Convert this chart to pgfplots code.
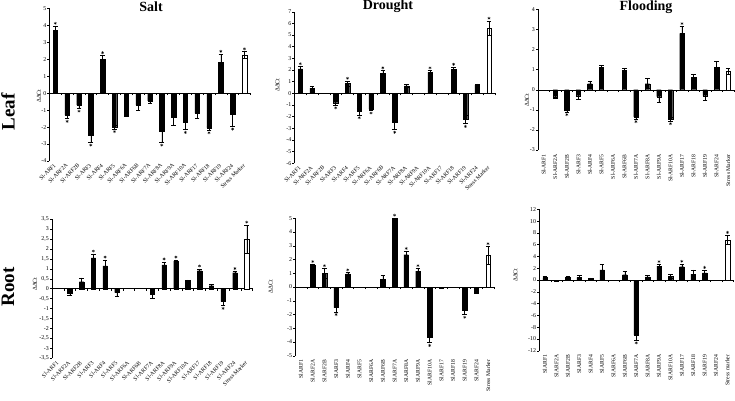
\documentclass[border=0pt]{standalone}
\usepackage{fontspec}
\setmainfont{Liberation Serif}
\usepackage{pgfplots}
\pgfplotsset{compat=1.18}

\pgfplotsset{
  panel/.style={
    scale only axis, clip=false, enlargelimits=false,
    xmin=-0.5, xmax=16.5,
    axis x line=middle, axis y line=left,
    axis line style={-, line width=0.4pt, black},
    tick align=outside, major tick length=2pt, minor tick length=2pt,
    xtick={0,...,16}, minor xtick={-0.5,0.5,...,16.5},
    major x tick style={draw=none}, minor x tick style={black, line width=0.4pt},
    y tick style={black, line width=0.4pt},
    hide obscured x ticks=false, hide obscured y ticks=false,
    /pgf/number format/assume math mode=true,
    y tick label style={font=\fontsize{5.9}{6}\selectfont, inner sep=1pt},
  },
  rotA/.style={x tick label style={rotate=45, anchor=east, inner sep=0.5pt, font=\fontsize{5.7}{6}\selectfont}},
  rotB/.style={x tick label style={rotate=90, anchor=east, inner sep=0.5pt, font=\fontsize{5.7}{6}\selectfont}},
  blackbar/.style={ybar, bar shift=0pt, bar width=4.5pt, fill=black, draw=black, line width=0.3pt,
    error bars/y dir=both, error bars/y explicit,
    error bars/error bar style={black, line width=0.4pt},
    error bars/error mark options={rotate=90, black, mark size=2.3pt, line width=0.4pt}},
  whitebar/.style={blackbar, fill=white},
  starsUp/.style={only marks, mark=asterisk, mark size=1.5pt, forget plot,
    mark options={black, line width=0.35pt, yshift=2.8pt}},
  starsDn/.style={only marks, mark=asterisk, mark size=1.5pt, forget plot,
    mark options={black, line width=0.35pt, yshift=-2.8pt}},
}

\begin{document}
\begin{tikzpicture}
\path[use as bounding box] (0,0) rectangle (735pt,400pt);

% titles and row labels
\node[font=\fontsize{14}{14}\bfseries] at (151pt,393pt) {Salt};
\node[font=\fontsize{14}{14}\bfseries] at (388pt,393.5pt) {Drought};
\node[font=\fontsize{14}{14}\bfseries] at (646pt,392.5pt) {Flooding};
\node[font=\fontsize{19}{19}\bfseries, rotate=90] at (8pt,288pt) {Leaf};
\node[font=\fontsize{19}{19}\bfseries, rotate=90] at (8pt,113pt) {Root};

% ---------------- Leaf / Salt ----------------
\begin{axis}[panel, rotA, at={(49.4pt,239pt)}, anchor=south west, width=201pt, height=152.7pt,
  ymin=-4, ymax=5, ytick={-4,...,5}, xticklabel shift=69pt,
  xticklabels={Sl-ARF1,Sl-ARF2A,Sl-ARF2B,Sl-ARF3,Sl-ARF4,Sl-ARF5,Sl-ARF6A,Sl-ARF6B,Sl-ARF7A,Sl-ARF8A,Sl-ARF9A,Sl-ARF10A,Sl-ARF17,Sl-ARF18,Sl-ARF19,Sl-ARF24,Stress Marker}]
\addplot[blackbar] coordinates {
 (0,3.7) +- (0,0.25) (1,-1.3) +- (0,0.2) (2,-0.7) +- (0,0.2) (3,-2.5) +- (0,0.4)
 (4,2.0) +- (0,0.22) (5,-2.0) +- (0,0.1) (6,-1.35) +- (0,0.02) (7,-0.7) +- (0,0.3)
 (8,-0.45) +- (0,0.15) (9,-2.25) +- (0,0.65) (10,-1.4) +- (0,0.5) (11,-1.7) +- (0,0.45)
 (12,-1.2) +- (0,0.25) (13,-2.05) +- (0,0.12) (14,1.8) +- (0,0.5) (15,-1.25) +- (0,0.7)};
\addplot[whitebar] coordinates {(16,2.25) +- (0,0.2)};
\addplot[starsUp] coordinates {(0,3.95) (4,2.22) (14,2.3) (16,2.45)};
\addplot[starsDn] coordinates {(1,-1.5) (2,-0.9) (3,-2.9) (5,-2.1) (9,-2.9) (11,-2.15) (13,-2.17) (15,-1.95)};
\node[rotate=90, font=\fontsize{6}{6}\selectfont] at ([xshift=-10.4pt]rel axis cs:0,0.425) {ΔΔCt};
\end{axis}

% ---------------- Leaf / Drought ----------------
\begin{axis}[panel, rotA, at={(294.4pt,236.7pt)}, anchor=south west, width=200.5pt, height=151.6pt,
  ymin=-6, ymax=7, ytick={-6,...,7}, xticklabel shift=71pt,
  xticklabels={Sl-ARF1,Sl-ARF2A,Sl-ARF2B,Sl-ARF3,Sl-ARF4,Sl-ARF5,Sl-ARF6A,Sl-ARF6B,Sl-ARF7A,Sl-ARF8A,Sl-ARF9A,Sl-ARF10A,Sl-ARF17,Sl-ARF18,Sl-ARF19,Sl-ARF24,Stress Marker}]
\addplot[blackbar] coordinates {
 (0,2.1) +- (0,0.2) (1,0.45) +- (0,0.15) (3,-0.8) +- (0,0.2) (4,0.85) +- (0,0.2)
 (5,-1.55) +- (0,0.3) (6,-1.35) +- (0,0.1) (7,1.7) +- (0,0.25) (8,-2.5) +- (0,0.6)
 (9,0.65) +- (0,0.15) (11,1.8) +- (0,0.15) (13,2.05) +- (0,0.2) (14,-2.25) +- (0,0.35)
 (15,0.7) +- (0,0.12)};
\addplot[whitebar] coordinates {(16,5.6) +- (0,0.6)};
\addplot[starsUp] coordinates {(0,2.3) (4,1.05) (7,1.95) (11,1.95) (13,2.25) (16,6.2)};
\addplot[starsDn] coordinates {(3,-1.0) (5,-1.85) (6,-1.45) (8,-3.1) (14,-2.6)};
\node[rotate=90, font=\fontsize{6}{6}\selectfont] at ([xshift=-17pt]rel axis cs:0,0.516) {ΔΔCt};
\end{axis}

% ---------------- Leaf / Flooding ----------------
\begin{axis}[panel, rotB, at={(538pt,250pt)}, anchor=south west, width=195.8pt, height=140.7pt,
  ymin=-3, ymax=4, ytick={-3,...,4}, xticklabel shift=62pt,
  xticklabels={Sl-ARF1,Sl-ARF2A,Sl-ARF2B,Sl-ARF3,Sl-ARF4,Sl-ARF5,Sl-ARF6A,Sl-ARF6B,Sl-ARF7A,Sl-ARF8A,Sl-ARF9A,Sl-ARF10A,Sl-ARF17,Sl-ARF18,Sl-ARF19,Sl-ARF24,Stress Marker}]
\addplot[blackbar] coordinates {
 (1,-0.35) +- (0,0.08) (2,-1.0) +- (0,0.1) (3,-0.3) +- (0,0.15) (4,0.3) +- (0,0.12)
 (5,1.12) +- (0,0.1) (7,0.97) +- (0,0.1) (8,-1.35) +- (0,0.1) (9,0.3) +- (0,0.25)
 (10,-0.35) +- (0,0.25) (11,-1.45) +- (0,0.1) (12,2.8) +- (0,0.35) (13,0.6) +- (0,0.17)
 (14,-0.3) +- (0,0.2) (15,1.12) +- (0,0.3)};
\addplot[whitebar] coordinates {(16,0.9) +- (0,0.15)};
\addplot[starsUp] coordinates {(12,3.15)};
\addplot[starsDn] coordinates {(2,-1.1) (8,-1.45) (11,-1.55)};
\node[rotate=90, font=\fontsize{6}{6}\selectfont] at ([xshift=-11pt]rel axis cs:0,0.355) {ΔΔCt};
\end{axis}

% ---------------- Root / Salt ----------------
\begin{axis}[panel, rotA, at={(52pt,41.7pt)}, anchor=south west, width=200.6pt, height=139.3pt,
  ymin=-3.5, ymax=3.5, ytick={-3.5,-3,...,3.5}, xticklabel shift=71pt,
  /pgf/number format/use comma, /pgf/number format/fixed,
  xticklabels={Sl-ARF1,Sl-ARF2A,Sl-ARF2B,Sl-ARF3,Sl-ARF4,Sl-ARF5,Sl-ARF6A,Sl-ARF6B,Sl-ARF7A,Sl-ARF8A,Sl-ARF9A,Sl-ARF10A,Sl-ARF17,Sl-ARF18,Sl-ARF19,Sl-ARF24,Stress Marker}]
\addplot[blackbar] coordinates {
 (1,-0.25) +- (0,0.1) (2,0.35) +- (0,0.2) (3,1.55) +- (0,0.2) (4,1.15) +- (0,0.3)
 (5,-0.2) +- (0,0.18) (8,-0.3) +- (0,0.17) (9,1.2) +- (0,0.15) (10,1.38) +- (0,0.07)
 (11,0.42) +- (0,0.02) (12,0.9) +- (0,0.1) (13,0.15) +- (0,0.05) (14,-0.65) +- (0,0.2)
 (15,0.8) +- (0,0.07)};
\addplot[whitebar] coordinates {(16,2.5) +- (0,0.7)};
\addplot[starsUp] coordinates {(3,1.75) (4,1.45) (9,1.35) (10,1.45) (12,1.0) (15,0.87) (16,3.2)};
\addplot[starsDn] coordinates {(14,-0.85)};
\node[rotate=90, font=\fontsize{6}{6}\selectfont] at ([xshift=-17pt]rel axis cs:0,0.533) {ΔΔCt};
\end{axis}

% ---------------- Root / Drought ----------------
\begin{axis}[panel, rotB, at={(295.2pt,44.3pt)}, anchor=south west, width=198.7pt, height=137.4pt,
  ymin=-5, ymax=5, ytick={-5,...,5}, xticklabel shift=70pt,
  xticklabels={SlARF1,SlARF2A,SlARF2B,SlARF3,SlARF4,SlARF5,SlARF6A,SlARF6B,SlARF7A,SlARF8A,SlARF9A,SlARF10A,SlARF17,SlARF18,SlARF19,SlARF24,Stress Marker}]
\addplot[blackbar] coordinates {
 (1,1.6) +- (0,0.05) (2,1.0) +- (0,0.35) (3,-1.5) +- (0,0.3) (4,0.95) +- (0,0.1)
 (7,0.55) +- (0,0.3) (8,5.0) +- (0,0.02) (9,2.35) +- (0,0.25) (10,1.15) +- (0,0.2)
 (11,-3.65) +- (0,0.4) (12,-0.08) +- (0,0.02) (14,-1.7) +- (0,0.3) (15,-0.35) +- (0,0.08)};
\addplot[whitebar] coordinates {(16,2.3) +- (0,0.65)};
\addplot[starsUp] coordinates {(1,1.65) (2,1.35) (4,1.05) (8,5.02) (9,2.6) (10,1.35) (16,2.95)};
\addplot[starsDn] coordinates {(3,-1.8) (11,-4.05) (14,-2.0)};
\node[rotate=90, font=\fontsize{6}{6}\selectfont] at ([xshift=-24.5pt]rel axis cs:0,0.50) {ΔΔCt};
\end{axis}

% ---------------- Root / Flooding ----------------
\begin{axis}[panel, rotB, at={(539.3pt,49.3pt)}, anchor=south west, width=193.8pt, height=141.4pt,
  ymin=-12, ymax=12, ytick={-12,-10,...,12}, xticklabel shift=72pt,
  xticklabels={SlARF1,SlARF2A,SlARF2B,SlARF3,SlARF4,SlARF5,SlARF6A,SlARF6B,SlARF7A,SlARF8A,SlARF9A,SlARF10A,SlARF17,SlARF18,SlARF19,SlARF24,Stress marker}]
\addplot[blackbar] coordinates {
 (0,0.4) +- (0,0.2) (1,-0.1) +- (0,0.05) (2,0.5) +- (0,0.1) (3,0.45) +- (0,0.3)
 (4,0.3) +- (0,0.05) (5,1.7) +- (0,0.9) (7,0.9) +- (0,0.6) (8,-9.3) +- (0,0.9)
 (9,0.55) +- (0,0.3) (10,2.35) +- (0,0.3) (11,0.65) +- (0,0.35) (12,2.25) +- (0,0.45)
 (13,1.0) +- (0,0.7) (14,1.2) +- (0,0.45)};
\addplot[whitebar] coordinates {(16,6.8) +- (0,0.8)};
\addplot[starsUp] coordinates {(10,2.65) (12,2.7) (14,1.65) (16,7.6)};
\addplot[starsDn] coordinates {(8,-10.2)};
\node[rotate=90, font=\fontsize{6}{6}\selectfont] at ([xshift=-24pt]rel axis cs:0,0.535) {ΔΔCt};
\end{axis}
\end{tikzpicture}
\end{document}
